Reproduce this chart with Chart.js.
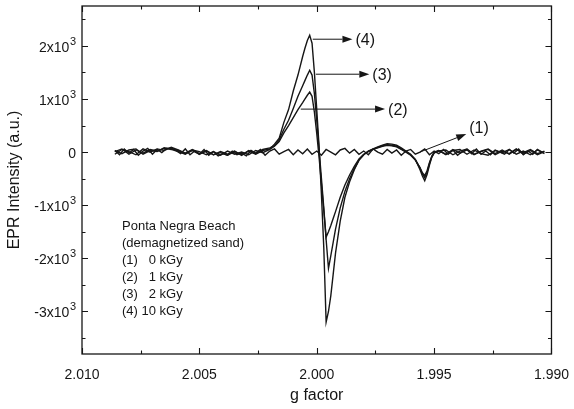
<!DOCTYPE html>
<html>
<head>
<meta charset="utf-8">
<script src="https://cdn.jsdelivr.net/npm/chart.js@4.4.0/dist/chart.umd.min.js"></script>
<style>
  html, body { margin: 0; padding: 0; background: #fff; }
  #wrap { width: 574px; height: 409px; position: relative; }
</style>
</head>
<body>
<div id="wrap"><canvas id="eprChart"></canvas></div>
<script>
// g values for the unirradiated sample (1)
const gUnirr = [
  2.0086, 2.0084, 2.0082, 2.0080, 2.0078, 2.0076, 2.0074, 2.0072, 2.0070, 2.0068,
  2.0066, 2.0064, 2.0062, 2.0060, 2.0058, 2.0056, 2.0054, 2.0052, 2.0050, 2.0048,
  2.0046, 2.0044, 2.0042, 2.0040, 2.0038, 2.0036, 2.0034, 2.0032, 2.0030, 2.0028,
  2.0026, 2.0024, 2.0022, 2.0020, 2.0018, 2.0016, 2.0014, 2.0012, 2.0010, 2.0008,
  2.0006, 2.0004, 2.0002, 2.0000, 1.9998, 1.9996, 1.9994, 1.9992, 1.9990, 1.9988,
  1.9986, 1.9984, 1.9982, 1.9980, 1.9978, 1.9976, 1.9974, 1.9972, 1.9970, 1.9968,
  1.9966, 1.9964, 1.9962, 1.9960, 1.9958, 1.9956, 1.9954, 1.9952, 1.9950, 1.9948,
  1.9946, 1.9944, 1.9942, 1.9940, 1.9938, 1.9936, 1.9934, 1.9932, 1.9930, 1.9928,
  1.9926, 1.9924, 1.9922, 1.9920, 1.9918, 1.9916, 1.9914, 1.9912, 1.9910, 1.9908,
  1.9906, 1.9904
];
const dose0 = [
  30, -50, 60, -20, 50, -60, 20, 70, -40, 50,
  -10, 70, 80, 30, -30, 60, -50, 20, -40, 50,
  -60, 10, -70, -30, -60, 20, -50, -20, -70, 30,
  -20, 50, -60, 20, 60, -40, 10, 50, -50, 40,
  -30, 60, -40, 20, -60, 50, 0, -50, 40, 70,
  -20, 50, -40, 20, -50, 60, 0, -40, 50, -20,
  40, -60, 20, 50, -40, 0, 60, -50, 20, -30,
  50, -40, 40, -60, 10, 50, -30, 60, -40, 20,
  -50, 40, 0, -40, 50, -20, 60, -50, 20, -40,
  50, 0
];

// g values shared by the irradiated samples (2)-(4)
const gIrr = [
  2.0086, 2.0083, 2.0080, 2.0077, 2.0074, 2.0071, 2.0068, 2.0065, 2.0062, 2.0059,
  2.0056, 2.0053, 2.0050, 2.0047, 2.0044, 2.0041, 2.0038, 2.0035, 2.0032, 2.0029,
  2.0026, 2.0023, 2.0020,
  2.0018, 2.0016, 2.0014, 2.0012, 2.0010, 2.0008, 2.0006, 2.0005, 2.0004, 2.0003,
  2.0002, 2.0001, 2.0000, 1.9999, 1.9998, 1.9997, 1.9996, 1.9995, 1.9994, 1.9993,
  1.9992, 1.9990, 1.9988, 1.9986, 1.9984, 1.9982, 1.9980, 1.9978, 1.9976, 1.9974,
  1.9972, 1.9970, 1.9968, 1.9966, 1.9964, 1.9962, 1.9960, 1.9958, 1.9956, 1.9955,
  1.9954, 1.9953, 1.9952, 1.9951, 1.9950, 1.9948,
  1.9945, 1.9942, 1.9939, 1.9936, 1.9933, 1.9930, 1.9927, 1.9924, 1.9921, 1.9918,
  1.9915, 1.9912, 1.9909, 1.9906, 1.9903
];
const dose1 = [
  30, -30, 40, 60, -40, 30, 10, 80, 50, 10,
  -40, 40, 10, -50, 10, -60, 20, -40, 0, -50,
  30, -10, 50,
  110, 200, 360, 500, 650, 800, 930, 1000, 1070, 1130,
  1050, 750, 350, -100, -600, -1100, -1600, -1500, -1380, -1250,
  -1120, -850, -620, -430, -270, -130, -40, 10, 50, 80,
  110, 130, 120, 100, 50, 0, -60, -150, -290, -390,
  -440, -350, -200, -80, 0, 30,
  -50, 30, 50, -40, 40, -30, -60, 30, -10, 50,
  -40, 20, -50, 40, -30
];
const dose2 = [
  -40, 50, 10, -50, 60, 0, 60, 30, 90, 40,
  -20, 50, -30, 30, -50, 10, -40, 20, -60, 30,
  -30, 50, 80,
  120, 230, 430, 600, 820, 1050, 1250, 1350, 1450, 1540,
  1450, 1100, 600, 50, -500, -1050, -1650, -2190, -1950, -1700,
  -1450, -1050, -740, -500, -310, -150, -50, 20, 50, 90,
  120, 140, 130, 110, 60, 10, -50, -140, -300, -410,
  -480, -380, -220, -90, -10, 20,
  40, -50, 20, 60, -40, 10, 50, -50, 20, -30,
  60, -40, 30, -50, 10
];
const dose10 = [
  10, 60, -40, 40, -20, 50, 20, 70, 60, 30,
  -30, 30, -40, 20, -50, -10, -60, 10, -50, 20,
  -40, 30, 60,
  150, 260, 560, 800, 1150, 1450, 1800, 1960, 2100, 2200,
  2050, 1500, 800, 100, -800, -1800, -3200, -3000, -2700, -2300,
  -1900, -1300, -850, -560, -330, -150, -50, 20, 60, 100,
  130, 160, 150, 130, 80, 20, -40, -140, -330, -450,
  -540, -420, -250, -100, -20, 30,
  -40, 50, -20, 40, -50, 20, 60, -30, 40, -40,
  50, -10, 50, -30, 20
];

// axis ticks
const xTickValues = [2.010, 2.0075, 2.005, 2.0025, 2.000, 1.9975, 1.995, 1.9925, 1.990];
const xTickLabels = ['2.010', '', '2.005', '', '2.000', '', '1.995', '', '1.990'];
const yTickValues = [-3500, -3000, -2500, -2000, -1500, -1000, -500, 0, 500, 1000, 1500, 2000, 2500];
const yTickLabels = ['', '-3x10', '', '-2x10', '', '-1x10', '', '0', '', '1x10', '', '2x10', ''];
const yTickPowers = ['', '3', '', '3', '', '3', '', '', '', '3', '', '3', ''];

// callouts: label, start point, arrow tip (g, intensity)
const callouts = [
  { label: '(4)', from: [2.00017, 2125], to: [1.99848, 2125] },
  { label: '(3)', from: [2.00004, 1466], to: [1.99776, 1466] },
  { label: '(2)', from: [2.00068, 809], to: [1.99709, 809] },
  { label: '(1)', from: [1.99561, 0], to: [1.99363, 339] }
];
const noteLines = ['Ponta Negra Beach', '(demagnetized sand)', '(1)   0 kGy', '(2)   1 kGy', '(3)   2 kGy', '(4) 10 kGy'];

const INK = '#161616';
const FONT = '"Liberation Sans", Arial, Helvetica, sans-serif';
Chart.defaults.font.family = FONT;
Chart.defaults.color = INK;

const toPoints = (gs, vs) => gs.map((g, i) => ({ x: g, y: vs[i] }));

const lineStyle = {
  borderColor: INK,
  borderWidth: 1.4,
  pointRadius: 0,
  fill: false,
  tension: 0
};

// frame, inward ticks, y labels with powers, arrows and notes
const framePlugin = {
  id: 'frame',
  afterDraw(chart) {
    const { ctx, chartArea: a } = chart;
    const xs = chart.scales.x, ys = chart.scales.y;
    ctx.save();
    ctx.strokeStyle = INK;
    ctx.lineWidth = 1.3;
    ctx.strokeRect(a.left, a.top, a.right - a.left, a.bottom - a.top);

    ctx.lineWidth = 1.1;
    ctx.beginPath();
    xTickValues.forEach((v, i) => {
      const px = Math.round(xs.getPixelForValue(v)) + 0.5;
      const len = xTickLabels[i] ? 6 : 3.5;
      ctx.moveTo(px, a.bottom); ctx.lineTo(px, a.bottom - len);
      ctx.moveTo(px, a.top); ctx.lineTo(px, a.top + len);
    });
    yTickValues.forEach((v, i) => {
      const py = Math.round(ys.getPixelForValue(v)) + 0.5;
      const len = yTickLabels[i] ? 6 : 3.5;
      ctx.moveTo(a.left, py); ctx.lineTo(a.left + len, py);
      ctx.moveTo(a.right, py); ctx.lineTo(a.right - len, py);
    });
    ctx.stroke();

    // y tick labels, e.g. 2x10 with raised 3
    ctx.fillStyle = INK;
    ctx.textAlign = 'right';
    yTickValues.forEach((v, i) => {
      if (!yTickLabels[i]) return;
      const py = ys.getPixelForValue(v);
      let right = a.left - 6;
      if (yTickPowers[i]) {
        ctx.font = '11px ' + FONT;
        ctx.textBaseline = 'alphabetic';
        ctx.fillText(yTickPowers[i], right, py - 1);
        right -= ctx.measureText(yTickPowers[i]).width + 0.5;
      }
      ctx.font = '14px ' + FONT;
      ctx.textBaseline = 'middle';
      ctx.fillText(yTickLabels[i], right, py + 2);
    });
    ctx.textAlign = 'left';

    // arrows
    ctx.font = '16px ' + FONT;
    ctx.textBaseline = 'middle';
    callouts.forEach(c => {
      const x0 = xs.getPixelForValue(c.from[0]), y0 = ys.getPixelForValue(c.from[1]);
      const x1 = xs.getPixelForValue(c.to[0]), y1 = ys.getPixelForValue(c.to[1]);
      const ang = Math.atan2(y1 - y0, x1 - x0);
      const hl = 10, hw = 3.5;
      const bx = x1 - hl * Math.cos(ang), by = y1 - hl * Math.sin(ang);
      ctx.lineWidth = 1;
      ctx.beginPath();
      ctx.moveTo(x0, y0); ctx.lineTo(bx, by);
      ctx.stroke();
      ctx.beginPath();
      ctx.moveTo(x1, y1);
      ctx.lineTo(bx + hw * Math.sin(ang), by - hw * Math.cos(ang));
      ctx.lineTo(bx - hw * Math.sin(ang), by + hw * Math.cos(ang));
      ctx.closePath();
      ctx.fill();
      const dy = c.from[1] === c.to[1] ? 1 : -6;
      ctx.fillText(c.label, x1 + 3, y1 + dy);
    });

    // sample notes
    ctx.font = '13px ' + FONT;
    noteLines.forEach((t, i) => ctx.fillText(t, a.left + 40, 226 + i * 17.1));
    ctx.restore();
  }
};

new Chart(document.getElementById('eprChart'), {
  type: 'line',
  data: {
    datasets: [
      { label: '(1) 0 kGy', data: toPoints(gUnirr, dose0), ...lineStyle },
      { label: '(2) 1 kGy', data: toPoints(gIrr, dose1), ...lineStyle },
      { label: '(3) 2 kGy', data: toPoints(gIrr, dose2), ...lineStyle },
      { label: '(4) 10 kGy', data: toPoints(gIrr, dose10), ...lineStyle }
    ]
  },
  options: {
    responsive: true,
    maintainAspectRatio: false,
    animation: false,
    layout: { padding: { top: 6, right: 18, left: 0, bottom: 0 } },
    plugins: { legend: { display: false }, tooltip: { enabled: false } },
    scales: {
      x: {
        type: 'linear',
        reverse: true,
        min: 1.990,
        max: 2.010,
        afterBuildTicks: s => { s.ticks = xTickValues.map(v => ({ value: v })); },
        afterFit: s => { s.height = 55; },
        grid: { display: false },
        border: { display: false },
        ticks: {
          autoSkip: false,
          maxRotation: 0,
          padding: 5,
          font: { size: 14 },
          callback: (v, i) => xTickLabels[i]
        },
        title: { display: true, text: 'g factor', font: { size: 16 }, padding: { top: 0, bottom: 4 } }
      },
      y: {
        min: -3800,
        max: 2750,
        afterBuildTicks: s => { s.ticks = yTickValues.map(v => ({ value: v })); },
        afterFit: s => { s.width = 82; },
        grid: { display: false },
        border: { display: false },
        ticks: { display: false },
        title: { display: true, text: 'EPR Intensity (a.u.)', font: { size: 16 }, padding: { top: 5, bottom: 0 } }
      }
    }
  },
  plugins: [framePlugin]
});
</script>
</body>
</html>
